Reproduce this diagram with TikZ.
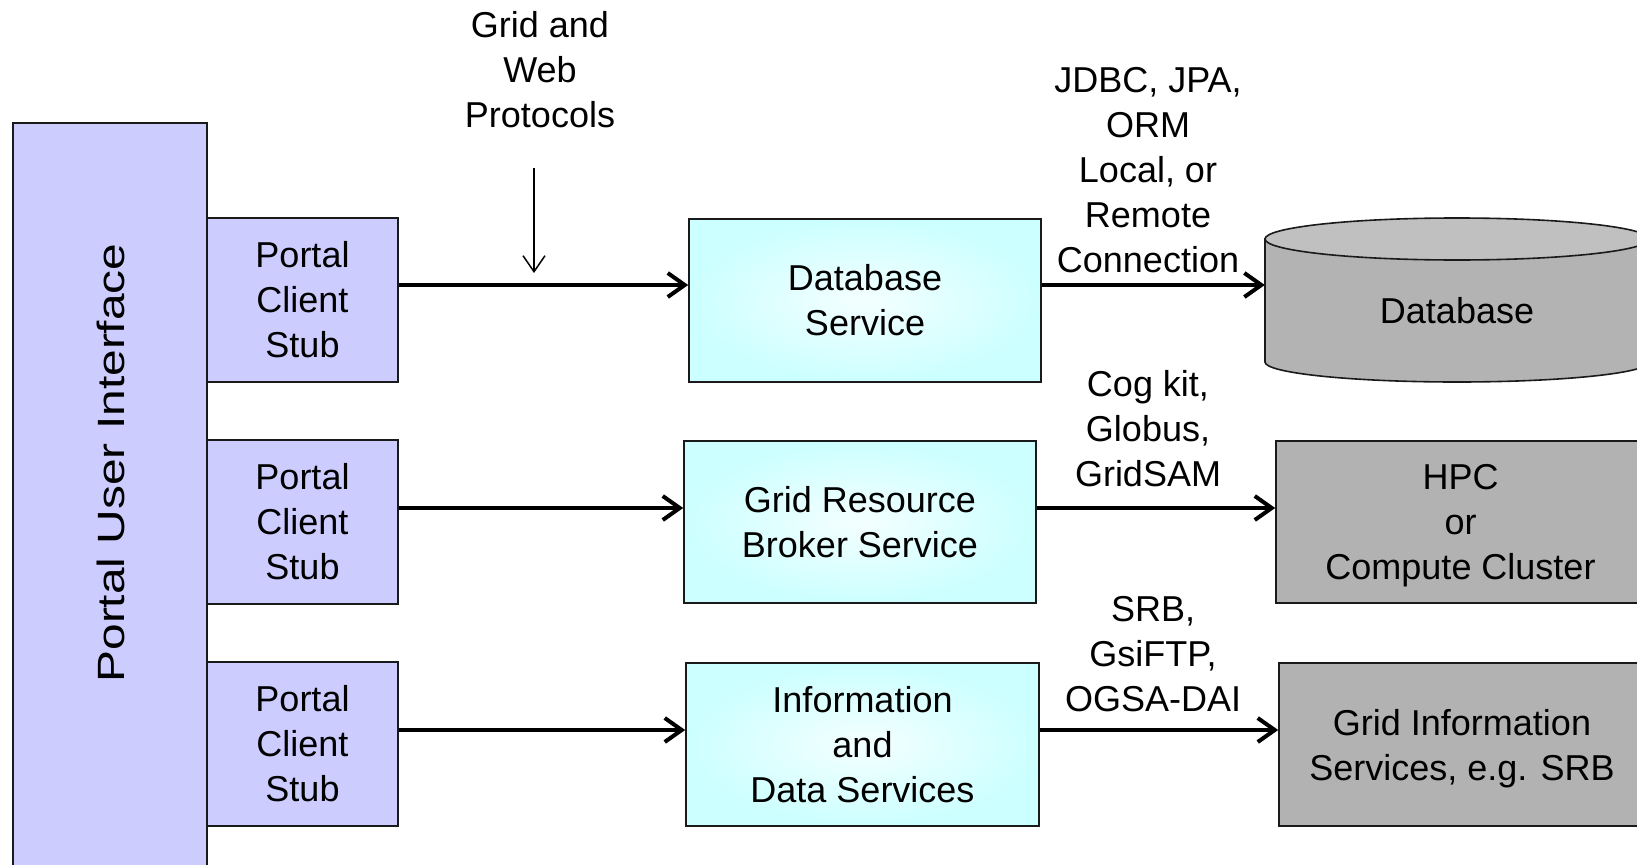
\documentclass[tikz,border=0pt]{standalone}
\usepackage{fontspec}
\setmainfont{Liberation Sans}
\newfontfamily\widesans[FakeStretch=1.26]{Liberation Sans}
\usetikzlibrary{arrows.meta}

\definecolor{portal}{HTML}{CCCCFF}
\definecolor{service}{HTML}{CCFFFF}
\definecolor{servicecore}{HTML}{F4FFFF}
\definecolor{backend}{HTML}{B2B2B2}
\definecolor{dbbody}{HTML}{B3B3B3}
\definecolor{dbtop}{HTML}{C0C0C0}
\definecolor{edge}{HTML}{1A1A1A}

\begin{document}
\begin{tikzpicture}[x=1pt, y=-1pt,
  txt/.style={font=\fontsize{36}{45}\selectfont, align=center, inner sep=0pt},
  box/.style={draw=edge, line width=1.6pt, inner sep=0pt},
  stub/.style={box, txt, fill=portal, minimum width=191pt, minimum height=164pt},
  svc/.style={box, txt, inner color=servicecore, outer color=service},
  backendbox/.style={box, txt, fill=backend, text depth=0pt},
  arr/.style={line width=4pt, -{Straight Barb[length=17pt, width=24pt]}},
  thinarr/.style={line width=1.5pt, -{Straight Barb[length=16pt, width=22pt]}}
]
\useasboundingbox (0,0) rectangle (1637,864);
\clip (0,0) rectangle (1637,864);

% portal user interface column
\node[box, fill=portal, minimum width=194pt, minimum height=760pt] (ui) at (110,503) {};
\node[font=\widesans\fontsize{38}{45}\selectfont, rotate=90, anchor=base, inner sep=0pt] (uitext) at (124,463) {Portal User Interface};

% client stubs
\node[stub] (s1) at (302.5,300) {Portal\\Client\\Stub};
\node[stub] (s2) at (302.5,522) {Portal\\Client\\Stub};
\node[stub] (s3) at (302.5,744) {Portal\\Client\\Stub};

% middle tier services
\node[svc, minimum width=352pt, minimum height=163pt] (d1) at (865,300.5) {Database\\Service};
\node[svc, minimum width=352pt, minimum height=162pt] (d2) at (860,522) {Grid Resource\\Broker Service};
\node[svc, minimum width=353pt, minimum height=163pt] (d3) at (862.5,744.5) {Information\\and\\Data Services};

% back-end resources
\node[backendbox, minimum width=369pt, minimum height=162pt] (hpc) at (1460.5,522) {HPC\\or\\Compute Cluster};
\node[backendbox, minimum width=366pt, minimum height=163pt] (gis) at (1462,744.5) {Grid Information\\Services, e.g. SRB};

% database cylinder
\fill[dbbody, draw=edge, line width=1.6pt]
  (1265,239) -- (1265,362)
  .. controls (1265,373) and (1351,382) .. (1457,382)
  .. controls (1563,382) and (1649,373) .. (1649,362)
  -- (1649,239) -- cycle;
\filldraw[fill=dbtop, draw=edge, line width=1.6pt] (1457,239) ellipse [x radius=192, y radius=21];
\node[minimum width=384pt, minimum height=124pt, inner sep=0pt] (db) at (1457,300) {};
\node[txt] (dblabel) at (1457,311) {Database};

% protocol labels
\node[txt] (gwp) at (540,70) {Grid and\\Web\\Protocols};
\node[txt] (jdbc) at (1148,170) {JDBC, JPA,\\ORM\\Local, or\\Remote\\Connection};
\node[txt] (cog) at (1148,429) {Cog kit,\\Globus,\\GridSAM};
\node[txt] (srb) at (1153,654) {SRB,\\GsiFTP,\\OGSA-DAI};

% protocol pointer
\coordinate (gwtop) at (534,168);
\coordinate (gwbot) at (534,273);
\draw[thinarr] (gwtop) -- (gwbot);

% connectors
\draw[arr] ([yshift=15pt]s1.east) -- ([yshift=15pt]s1.east -| d1.west);
\draw[arr] ([yshift=14pt]s2.east) -- ([yshift=14pt]s2.east -| d2.west);
\draw[arr] ([yshift=14pt]s3.east) -- ([yshift=14pt]s3.east -| d3.west);
\draw[arr] ([yshift=15pt]s1.east -| d1.east) -- ([yshift=15pt]s1.east -| db.west);
\draw[arr] ([yshift=14pt]s2.east -| d2.east) -- ([yshift=14pt]s2.east -| hpc.west);
\draw[arr] ([yshift=14pt]s3.east -| d3.east) -- ([yshift=14pt]s3.east -| gis.west);
\end{tikzpicture}
\end{document}
